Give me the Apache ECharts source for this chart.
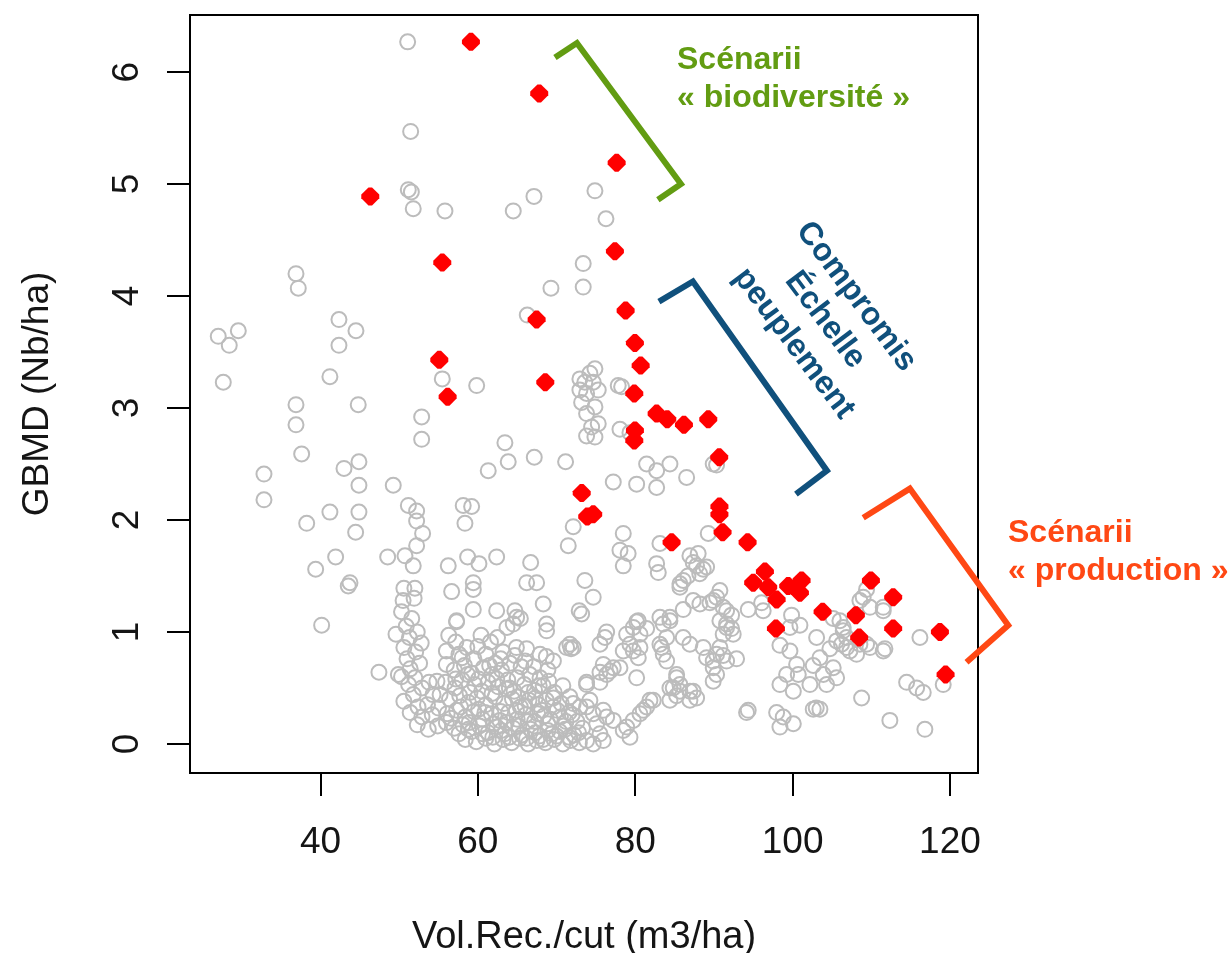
<!DOCTYPE html>
<html>
<head>
<meta charset="utf-8">
<script src="https://cdn.jsdelivr.net/npm/echarts@6/dist/echarts.min.js"></script>
<style>
  html, body { margin: 0; padding: 0; background: #fff; }
  #chart { width: 1232px; height: 953px; }
</style>
</head>
<body>
<div id="chart"></div>
<script>
// Axis ticks
const xTicks = [40, 60, 80, 100, 120];
const yTicks = [0, 1, 2, 3, 4, 5, 6];

// All simulated scenarios [Vol.Rec./cut, GBMD]
const scenariosUpper = [
  [51.08,6.27],[51.46,5.47],[51.16,4.95],[51.55,4.93],[51.79,4.78],[55.82,4.76],[64.50,4.76],[67.13,4.89],[74.88,4.94],[76.28,4.69],
  [73.39,4.29],[73.39,4.08],[69.29,4.07],[66.28,3.83],[36.89,4.20],[37.18,4.07],
  [27.01,3.64],[29.56,3.69],[28.41,3.56],[42.35,3.79],[44.51,3.69],[42.35,3.56],[27.65,3.23],[41.20,3.28],[55.48,3.26],[59.85,3.20],
  [36.89,3.03],[44.80,3.03],[52.86,2.92],[36.89,2.85],[52.86,2.72],[63.44,2.69],[37.61,2.59],[63.86,2.52],[67.17,2.56],[71.15,2.52],[61.32,2.44],
  [32.82,2.41],[42.99,2.46],[44.89,2.52],[44.89,2.31],[49.25,2.31],[32.82,2.18],[41.20,2.07],[44.89,2.07],[38.25,1.97],[44.47,1.89],
  [51.17,2.13],[52.22,2.08],[52.22,1.99],[52.98,1.88],[52.22,1.77],[58.14,2.13],[59.21,2.12],[58.36,1.97],
  [48.54,1.67],[50.74,1.68],[51.79,1.59],[41.93,1.67],[39.39,1.56],[56.24,1.59],[58.70,1.67],[60.14,1.61],[62.39,1.67],[66.71,1.62],[71.49,1.77],[72.12,1.94],
  [43.53,1.41],[43.75,1.44],[59.42,1.44],[59.42,1.38],[56.67,1.36],[66.20,1.44],[67.47,1.44],[73.60,1.46],[40.15,1.06],[47.43,0.64],
  [68.31,1.25],[68.74,1.07],[68.74,1.01],[59.42,1.20],[62.39,1.19],[64.71,1.19],[64.93,1.13],[73.19,1.16],[72.88,1.19],[71.70,0.89],[71.85,0.85],[72.12,0.86],[73.82,0.55],[57.30,1.09],
  [74.88,3.35],[74.24,3.31],[73.60,3.23],[74.66,3.23],[72.97,3.26],[72.97,3.16],[73.82,3.13],[75.30,3.16],[77.84,3.20],[78.27,3.19],[74.88,3.01],[73.19,3.05],
  [73.82,2.95],[75.30,2.86],[74.46,2.83],[73.82,2.75],[74.88,2.74],[78.06,2.81],[79.33,2.78],[81.45,2.50],[84.41,2.50],[86.53,2.38],[82.72,2.44],[80.18,2.32],
  [82.72,2.29],[77.21,2.34],[89.91,2.50],[90.34,2.49]
];

const scenariosColumn = [
  [50.6,1.39],[52.0,1.39],[50.5,1.28],[51.9,1.30],[50.3,1.18],[51.6,1.12],[50.9,1.05],[52.3,1.00],[51.3,0.95],[52.8,0.90],[50.6,0.86],[52.1,0.82],
  [51.0,0.76],[52.6,0.72],[51.4,0.67],[50.3,0.60],[52.0,0.59],[51.2,0.53],[52.9,0.50],[51.8,0.44],[50.6,0.38],[52.4,0.33],[53.6,0.35],[51.4,0.28],
  [52.9,0.24],[54.2,0.26],[52.3,0.17],[53.7,0.13],[54.9,0.16],[49.6,0.98],[49.9,0.62],[53.8,0.55],[54.3,0.44]
];

const scenariosMiddle = [
  [78.06,1.73],[79.10,1.70],[78.48,1.59],[82.72,1.61],[82.93,1.53],[83.14,1.79],[78.48,1.88],[86.95,1.68],[87.80,1.59],[89.07,1.58],[88.20,1.52],[86.70,1.50],
  [85.68,1.43],[89.28,1.88],[88.00,1.70],[87.37,1.62],[88.64,1.56],[86.10,1.46],[85.68,1.40],
  [74.66,1.31],[90.76,1.37],[90.34,1.31],[89.49,1.26],[88.22,1.25],[91.18,1.22],[91.61,1.19],[86.10,1.20],[94.36,1.20],[89.91,1.28],[87.37,1.28],[92.24,1.15],
  [91.61,1.07],[92.24,1.03],[91.18,0.98],[96.06,1.26],[96.26,1.19],
  [83.14,1.13],[84.41,1.10],[84.41,1.13],[83.56,1.07],[80.18,1.09],[81.45,1.03],[80.60,0.98],[79.75,1.04],[80.39,1.10],[78.91,0.98],[76.37,1.00],[76.15,0.95],
  [75.52,0.89],[90.76,1.10],[91.61,1.04],[92.45,0.98],[86.10,0.95],[83.99,0.95],[86.95,0.89],
  [79.33,0.89],[79.75,0.83],[80.60,0.86],[78.48,0.83],[80.39,0.77],[71.28,0.86],[83.14,0.89],[83.35,0.86],[83.56,0.80],[83.99,0.74],[88.64,0.86],[90.34,0.80],
  [91.18,0.79],[89.07,0.77],[92.88,0.76],[89.91,0.68],[89.91,0.56],[90.76,0.86],[91.61,0.74],[89.91,0.74],[90.34,0.62],
  [75.94,0.71],[77.21,0.68],[78.06,0.68],[75.52,0.64],[76.37,0.62],[75.52,0.55],[76.80,0.65],[80.18,0.59],[73.82,0.53],[74.24,0.39],[85.26,0.59],[85.26,0.62],
  [85.68,0.53],[84.41,0.50],[84.83,0.50],[85.26,0.43],[85.68,0.47],[86.95,0.47],[87.37,0.47],[87.80,0.41],[86.95,0.39],[84.41,0.39],[82.29,0.39],[81.87,0.39],
  [81.45,0.33],[81.02,0.30],[80.60,0.27],[79.75,0.21],[78.48,0.12],
  [94.15,0.28],[72.12,0.36],[72.97,0.33],[73.82,0.33],[74.66,0.27],[75.94,0.30],[76.37,0.24],[75.10,0.18],[77.21,0.21],[78.91,0.15],[79.33,0.06],[75.94,0.03],
  [75.52,0.09],[74.66,0.00],[73.82,0.03]
];

const scenariosRight = [
  [99.87,1.15],[100.93,1.06],[99.66,1.04],[103.05,0.95],[105.16,1.12],[106.43,1.01],[105.59,0.92],[106.86,0.86],[104.74,0.85],[108.13,0.80],[109.40,0.89],
  [111.73,0.85],[109.83,1.22],[108.55,1.28],[111.52,1.22],[109.40,1.38],[108.97,1.31],[111.52,1.19],[106.01,1.10],[106.43,1.04],[106.86,0.95],[106.22,0.89],
  [107.29,0.83],[108.55,0.89],[109.83,0.86],[111.52,0.83],
  [98.39,0.88],[99.66,0.83],[100.51,0.71],[99.24,0.62],[100.72,0.62],[102.62,0.70],[103.47,0.77],[103.90,0.62],[105.16,0.68],[105.59,0.59],[104.32,0.53],
  [102.20,0.53],[98.39,0.53],[100.09,0.47],
  [116.18,0.95],[114.49,0.55],[115.76,0.50],[116.60,0.46],[119.14,0.53],[94.36,0.30],[97.97,0.28],[98.81,0.24],[100.09,0.18],[98.39,0.15],[102.62,0.31],
  [103.00,0.32],[103.47,0.31],[108.77,0.41],[112.36,0.21],[116.81,0.13]
];

const scenariosCore = [
  [56.3,0.97],[57.2,0.91],[56.0,0.83],[57.6,0.80],[58.6,0.86],[59.5,0.76],[60.4,0.97],[61.6,0.91],[62.5,0.95],[63.7,1.04],[64.5,1.07],[65.4,1.12],[57.3,1.10],
  [64.9,0.86],[66.2,0.85],[67.9,0.80],[68.7,0.78],[69.6,0.74],[63.2,0.82],[61.0,0.80],[62.2,0.72],
  [56.0,0.71],[57.0,0.66],[58.3,0.70],[59.2,0.63],[60.7,0.68],[61.8,0.62],[63.0,0.66],[64.1,0.72],[65.5,0.69],[66.6,0.62],[67.9,0.59],[68.9,0.66],
  [54.8,0.56],[55.9,0.55],[57.1,0.50],[58.0,0.57],[59.6,0.53],[60.5,0.47],[61.3,0.55],[62.6,0.51],[63.8,0.57],[64.6,0.47],[65.9,0.53],[67.2,0.48],[68.3,0.52],
  [69.7,0.46],[70.8,0.52],
  [55.2,0.44],[56.4,0.40],[57.7,0.43],[58.8,0.37],[59.9,0.41],[61.0,0.35],[62.2,0.42],[63.3,0.36],[64.4,0.40],[65.4,0.33],[66.5,0.39],[67.7,0.35],[68.7,0.39],
  [69.6,0.41],[70.6,0.36],[71.7,0.42],
  [55.0,0.32],[56.1,0.27],[57.3,0.30],[58.4,0.24],[59.5,0.29],[60.6,0.22],[61.7,0.27],[62.8,0.21],[63.9,0.28],[65.0,0.22],[66.1,0.26],[67.2,0.20],[68.4,0.25],
  [69.6,0.33],[70.5,0.24],[71.6,0.28],[72.6,0.20],
  [56.0,0.19],[57.0,0.14],[58.1,0.17],[59.2,0.11],[60.2,0.16],[61.3,0.10],[62.4,0.15],[63.4,0.09],[64.5,0.14],[65.6,0.08],[66.7,0.13],[67.8,0.07],[68.9,0.12],
  [70.0,0.07],[71.1,0.13],[72.2,0.08],[73.3,0.14],
  [58.4,0.04],[59.8,0.02],[61.0,0.05],[62.1,0.00],[63.2,0.04],[64.3,0.01],[65.3,0.05],[66.4,0.00],[67.5,0.03],[68.6,0.01],[69.7,0.04],[70.8,0.00],[71.8,0.03],
  [72.9,0.01],
  [57.8,0.33],[59.0,0.46],[60.1,0.31],[61.8,0.45],[62.9,0.29],[64.0,0.50],[65.1,0.42],[66.0,0.34],[67.3,0.41],[68.1,0.30],[69.2,0.22],[70.1,0.30],[71.2,0.20],
  [72.0,0.26],[56.6,0.23],[58.9,0.19],[60.9,0.28],[62.0,0.18],[63.6,0.19],[64.9,0.30],[66.4,0.20],[67.6,0.27],[68.9,0.18],[70.9,0.16],[72.8,0.10],
  [57.6,0.09],[58.8,0.13],[60.6,0.09],[61.9,0.06],[63.0,0.12],[64.0,0.06],[65.2,0.16],[66.2,0.05],[67.3,0.10],[68.3,0.04],[69.4,0.09],[70.4,0.11],[71.6,0.06],
  [57.2,0.58],[58.7,0.62],[60.1,0.58],[62.4,0.58],[63.6,0.49],[65.0,0.59],[66.4,0.46],[67.8,0.52],[69.0,0.56],
  [58.0,0.77],[60.0,0.87],[61.5,0.70],[62.9,0.76],[64.7,0.79],[66.0,0.74],[67.1,0.69]
];

// Scenarios on the trade-off front
const frontScenarios = [
  [59.12,6.27],[67.80,5.81],[77.64,5.19],[46.33,4.89],[77.42,4.40],[55.48,4.30],[78.78,3.87],[67.47,3.79],[79.96,3.58],[55.10,3.43],[80.69,3.38],
  [68.57,3.23],[79.88,3.13],[56.16,3.10],[82.72,2.95],[84.07,2.90],[89.28,2.90],[86.19,2.85],[79.96,2.80],[79.88,2.71],[90.67,2.56],[73.20,2.24],
  [90.70,2.12],[74.66,2.05],[73.90,2.03],[90.70,2.05],[91.10,1.89],[94.28,1.80],[84.62,1.80],[96.48,1.54],[94.99,1.44],[96.90,1.40],[97.97,1.29],
  [99.44,1.41],[101.14,1.46],[100.93,1.35],[103.81,1.18],[97.88,1.03],[109.95,1.46],[108.04,1.15],[108.46,0.95],[112.78,1.31],[112.78,1.03],
  [118.72,1.00],[119.44,0.62]
];

// Bracket outlines (data units)
const bracketBiodiversity = [[69.80,6.13],[72.59,6.26],[85.81,5.00],[82.88,4.86]];
const bracketCompromise = [[83.01,3.95],[87.33,4.13],[104.36,2.44],[100.42,2.23]];
const bracketProduction = [[108.97,2.02],[114.90,2.28],[127.40,1.06],[122.10,0.73]];

const FONT = '"Liberation Sans", Arial, Helvetica, sans-serif';
const GREEN = '#629c12';
const BLUE = '#10507c';
const ORANGE = '#ff4814';
const TEXT = '#151515';

const chart = echarts.init(document.getElementById('chart'), null, { renderer: 'canvas' });

const grayStyle = { color: 'rgba(255,255,255,0)', borderColor: '#bcbcbc', borderWidth: 2, opacity: 1 };
function graySeries(data) {
  return { type: 'scatter', data: data, symbol: 'circle', symbolSize: 15, itemStyle: grayStyle, z: 2, silent: true };
}

chart.setOption({
  animation: false,
  backgroundColor: '#fff',
  grid: {
    left: 190, right: 254, top: 15, bottom: 180, outerBoundsMode: 'none',
    show: true, borderColor: '#000', borderWidth: 2, backgroundColor: '#fff'
  },
  xAxis: {
    type: 'value', min: 23.42, max: 123.56,
    axisLine: { show: true, onZero: false, lineStyle: { color: '#000', width: 2 } }, splitLine: { show: false },
    axisTick: { show: true, inside: false, customValues: xTicks, length: 23, lineStyle: { color: '#000', width: 2 } },
    axisLabel: { customValues: xTicks, fontSize: 37, color: TEXT, fontFamily: FONT, margin: 51 },
    name: 'Vol.Rec./cut (m3/ha)', nameLocation: 'middle', nameGap: 146,
    nameTextStyle: { fontSize: 38, color: TEXT, fontFamily: FONT }
  },
  yAxis: {
    type: 'value', min: -0.26, max: 6.51,
    axisLine: { show: true, onZero: false, lineStyle: { color: '#000', width: 2 } }, splitLine: { show: false },
    axisTick: { show: true, inside: false, customValues: yTicks, length: 23, lineStyle: { color: '#000', width: 2 } },
    axisLabel: { customValues: yTicks, rotate: 90, fontSize: 37, color: TEXT, fontFamily: FONT, margin: 44 },
    name: 'GBMD (Nb/ha)', nameLocation: 'middle', nameRotate: 90, nameGap: 134,
    nameTextStyle: { fontSize: 37, color: TEXT, fontFamily: FONT }
  },
  series: [
    graySeries(scenariosUpper),
    graySeries(scenariosColumn),
    graySeries(scenariosMiddle),
    graySeries(scenariosRight),
    graySeries(scenariosCore),
    {
      type: 'scatter', data: frontScenarios, z: 3, silent: true,
      symbol: 'path://M4,0 L6,0 L10,4 L10,6 L6,10 L4,10 L0,6 L0,4 Z', symbolSize: 18,
      itemStyle: { color: '#ff0000', opacity: 1 }
    }
  ]
});

// Brackets are placed through the axes' own scales, then drawn unclipped
function bracket(points, color) {
  return {
    type: 'polyline', z: 50, silent: true,
    shape: { points: points.map(p => chart.convertToPixel({ gridIndex: 0 }, p)) },
    style: { stroke: color, lineWidth: 6, lineJoin: 'miter', lineCap: 'butt', fill: null }
  };
}
function label(text, x, y, color) {
  return { type: 'text', x: x, y: y, z: 60, silent: true,
    style: { text: text, font: 'bold 32px ' + FONT, fill: color, align: 'left', verticalAlign: 'middle' } };
}

chart.setOption({
  graphic: [
    bracket(bracketBiodiversity, GREEN),
    bracket(bracketCompromise, BLUE),
    bracket(bracketProduction, ORANGE),
    label('Scénarii', 677, 60, GREEN),
    label('« biodiversité »', 677, 98, GREEN),
    label('Scénarii', 1008, 533, ORANGE),
    label('« production »', 1008, 571, ORANGE),
    {
      type: 'text', x: 825, y: 320, rotation: -53 * Math.PI / 180, z: 60, silent: true,
      style: { text: 'Compromis\nÉchelle\npeuplement', font: 'bold 32px ' + FONT, fill: BLUE, align: 'center', verticalAlign: 'middle', lineHeight: 39 }
    }
  ]
});
</script>
</body>
</html>
